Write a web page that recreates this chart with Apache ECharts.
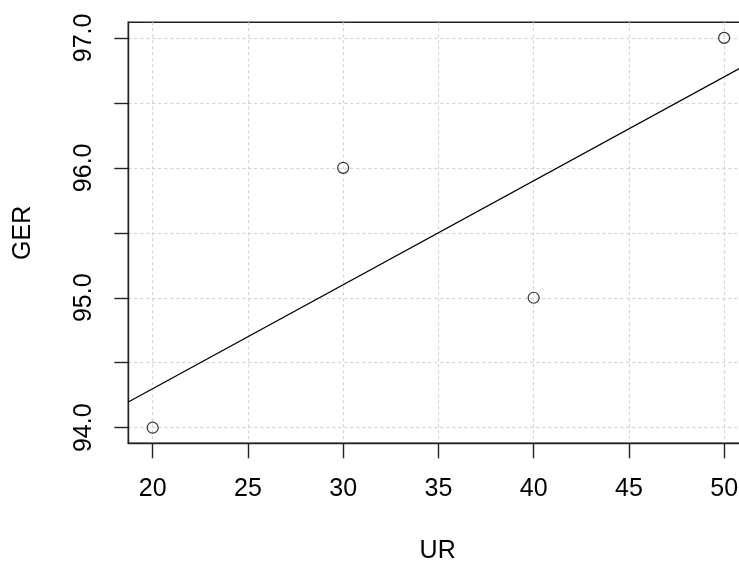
<!DOCTYPE html>
<html>
<head>
<meta charset="utf-8">
<script src="https://cdn.jsdelivr.net/npm/echarts@6/dist/echarts.min.js"></script>
<style>html,body{margin:0;padding:0;background:#fff}#c{width:739px;height:564px}</style>
</head>
<body>
<div id="c"></div>
<script>
// Data
const urValues = [20, 30, 40, 50];
const gerValues = [94, 96, 95, 97];
const xTicks = [20, 25, 30, 35, 40, 45, 50];
const yTicks = [94, 94.5, 95, 95.5, 96, 96.5, 97];
const yLabels = [94, 95, 96, 97];
const xRange = [18.72, 51.2];
const yRange = [93.88, 97.12];
// fitted regression line (lm of GER ~ UR)
const fitIntercept = 92.7;
const fitSlope = 0.08;

const points = urValues.map((x, i) => [x, gerValues[i]]);
const fitLine = xRange.map(x => [x, fitIntercept + fitSlope * x]);

const font = '"Liberation Sans", Arial, sans-serif';
const txt = '#000';
const gridLine = { show: true, lineStyle: { color: '#d3d3d3', type: [3, 3], width: 1.2 } };

const chart = echarts.init(document.getElementById('c'), null, { renderer: 'canvas' });
chart.setOption({
  animation: false,
  backgroundColor: '#fff',
  grid: {
    left: 128.3, top: 22.3, width: 618.7, height: 421,
    outerBoundsMode: 'none', containLabel: false,
    show: true, borderColor: '#222', borderWidth: 1.4, backgroundColor: 'transparent'
  },
  xAxis: {
    type: 'value', min: xRange[0], max: xRange[1],
    name: 'UR', nameLocation: 'middle', nameGap: 108,
    nameTextStyle: { fontFamily: font, fontSize: 25, color: txt, verticalAlign: 'middle' },
    axisLine: { show: true, onZero: false, lineStyle: { color: '#222', width: 1.4 } },
    axisTick: { show: true, length: 15, customValues: xTicks, lineStyle: { color: '#222', width: 1.4 } },
    axisLabel: { customValues: xTicks, margin: 46, fontFamily: font, fontSize: 25, color: txt, verticalAlign: 'middle', formatter: v => String(v) },
    splitLine: gridLine
  },
  yAxis: {
    type: 'value', min: yRange[0], max: yRange[1],
    name: 'GER', nameLocation: 'middle', nameGap: 105,
    nameTextStyle: { fontFamily: font, fontSize: 25, color: txt, verticalAlign: 'middle' },
    axisLine: { show: true, onZero: false, lineStyle: { color: '#222', width: 1.4 } },
    axisTick: { show: true, length: 14, customValues: yTicks, lineStyle: { color: '#222', width: 1.4 } },
    axisLabel: { customValues: yLabels, rotate: 90, margin: 44, fontFamily: font, fontSize: 25, color: txt, verticalAlign: 'middle', align: 'center', formatter: v => v.toFixed(1) },
    splitLine: gridLine
  },
  series: [
    {
      type: 'line', data: fitLine, symbol: 'none', silent: true, clip: true,
      lineStyle: { color: '#000', width: 1.3 }
    },
    {
      type: 'scatter', data: points, symbol: 'circle', symbolSize: 11,
      itemStyle: { color: 'rgba(255,255,255,0)', borderColor: '#000', borderWidth: 1.2 }
    }
  ]
});
</script>
</body>
</html>
